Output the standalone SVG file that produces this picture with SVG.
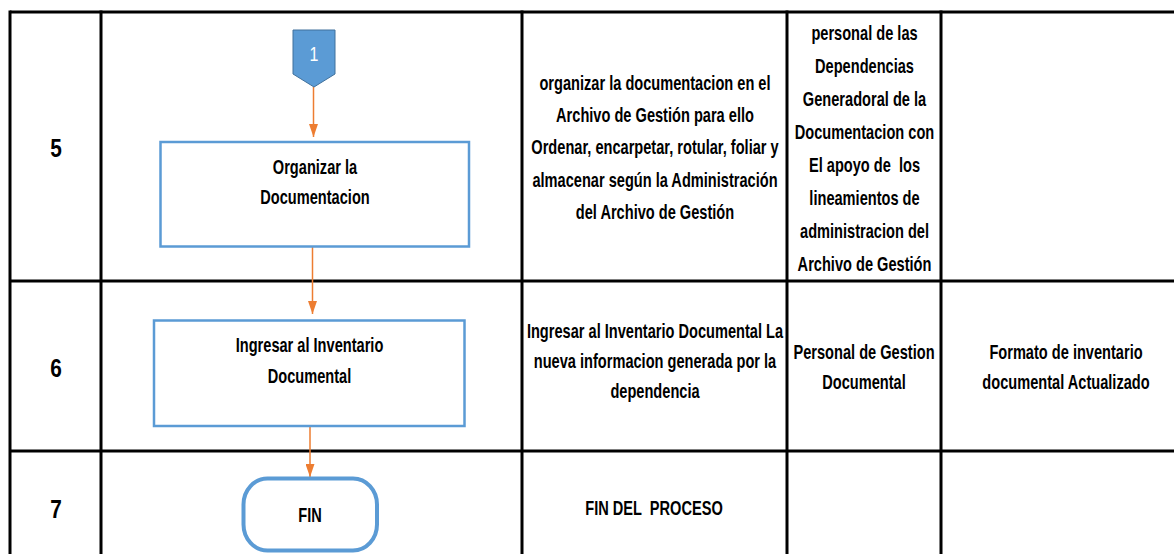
<svg xmlns="http://www.w3.org/2000/svg" width="1174" height="554" viewBox="0 0 1174 554">
  <style>
    .grid { stroke: #000; stroke-width: 3; fill: none; }
    .t { font-family: "Liberation Sans", Arial, sans-serif; font-weight: bold; font-size: 20px; fill: #000; text-anchor: middle; }
    .pre { white-space: pre; }
    .num { font-family: "Liberation Sans", Arial, sans-serif; font-weight: bold; font-size: 26px; fill: #000; text-anchor: middle; }
    .proc { fill: #fff; stroke: #5B9BD5; stroke-width: 2.5; }
    .term { fill: #fff; stroke: #5B9BD5; stroke-width: 4; }
    .conn { stroke: #ED7D31; stroke-width: 1.5; fill: none; marker-end: url(#arr); }
  </style>
  <defs>
    <marker id="arr" viewBox="0 0 13 9" refX="13" refY="4.5" markerWidth="13" markerHeight="9" markerUnits="userSpaceOnUse" orient="auto">
      <path d="M0,0 L13,4.5 L0,9 z" fill="#ED7D31"/>
    </marker>
  </defs>
  <rect width="1174" height="554" fill="#fff"/>

  <g id="table">
    <line class="grid" x1="10" y1="12" x2="1174" y2="12"/>
    <line class="grid" x1="10" y1="281" x2="1174" y2="281"/>
    <line class="grid" x1="10" y1="451" x2="1174" y2="451"/>
    <line class="grid" x1="10" y1="10.5" x2="10" y2="554"/>
    <line class="grid" x1="101" y1="10.5" x2="101" y2="554"/>
    <line class="grid" x1="522" y1="10.5" x2="522" y2="554"/>
    <line class="grid" x1="787" y1="10.5" x2="787" y2="554"/>
    <line class="grid" x1="941" y1="10.5" x2="941" y2="554"/>
  </g>

  <g id="row-numbers">
    <text class="num" transform="matrix(0.8 0 0 1 56 0)" x="0" y="157">5</text>
    <text class="num" transform="matrix(0.8 0 0 1 56 0)" x="0" y="377">6</text>
    <text class="num" transform="matrix(0.8 0 0 1 56 0)" x="0" y="518">7</text>
  </g>

  <g id="connectors">
    <line class="conn" x1="313.5" y1="87" x2="313.5" y2="137"/>
    <line class="conn" x1="312.5" y1="247" x2="312.5" y2="314"/>
    <line class="conn" x1="310" y1="427" x2="310" y2="477"/>
  </g>

  <g id="node-connector-1">
    <polygon points="293,30 335,30 335,74 314,87 293,74" fill="#5B9BD5" stroke="#41719C" stroke-width="1"/>
    <text transform="matrix(0.8 0 0 1 314 0)" x="0" y="61" font-family="Liberation Sans, Arial, sans-serif" font-size="20" fill="#fff" text-anchor="middle">1</text>
  </g>

  <g id="node-organizar">
    <rect class="proc" x="160.5" y="142" width="308.5" height="104.5"/>
    <text class="t" transform="matrix(0.73 0 0 1 315 0)"><tspan x="0" y="174">Organizar la</tspan><tspan x="0" y="204">Documentacion</tspan></text>
  </g>

  <g id="node-ingresar">
    <rect class="proc" x="154" y="320.5" width="310.5" height="105.5"/>
    <text class="t" transform="matrix(0.73 0 0 1 309.5 0)"><tspan x="0" y="352">Ingresar al Inventario</tspan><tspan x="0" y="383">Documental</tspan></text>
  </g>

  <g id="node-fin">
    <rect class="term" x="243.5" y="478.5" width="133.5" height="72" rx="24" ry="26"/>
    <text class="t" transform="matrix(0.73 0 0 1 310 0)" x="0" y="522">FIN</text>
  </g>

  <g id="cell-desc-5">
    <text class="t" transform="matrix(0.73 0 0 1 655 0)"><tspan x="0" y="90">organizar la documentacion en el</tspan><tspan x="0" y="122">Archivo de Gestión para ello</tspan><tspan x="0" y="154.5">Ordenar, encarpetar, rotular, foliar y</tspan><tspan x="0" y="187">almacenar según la Administración</tspan><tspan x="0" y="219">del Archivo de Gestión</tspan></text>
  </g>

  <g id="cell-resp-5">
    <text class="t" transform="matrix(0.73 0 0 1 864.5 0)"><tspan x="0" y="40.5">personal de las</tspan><tspan x="0" y="73.5">Dependencias</tspan><tspan x="0" y="106.5">Generadoral de la</tspan><tspan x="0" y="139.5">Documentacion con</tspan><tspan class="pre" x="0" y="172.5">El apoyo de  los</tspan><tspan x="0" y="205.5">lineamientos de</tspan><tspan x="0" y="238.5">administracion del</tspan><tspan x="0" y="271.5">Archivo de Gestión</tspan></text>
  </g>

  <g id="cell-desc-6">
    <text class="t" transform="matrix(0.73 0 0 1 655 0)"><tspan x="0" y="338">Ingresar al Inventario Documental La</tspan><tspan x="0" y="368">nueva informacion generada por la</tspan><tspan x="0" y="398">dependencia</tspan></text>
  </g>

  <g id="cell-resp-6">
    <text class="t" transform="matrix(0.73 0 0 1 864 0)"><tspan x="0" y="359">Personal de Gestion</tspan><tspan x="0" y="389">Documental</tspan></text>
  </g>

  <g id="cell-out-6">
    <text class="t" transform="matrix(0.73 0 0 1 1066 0)"><tspan x="0" y="359">Formato de inventario</tspan><tspan x="0" y="389">documental Actualizado</tspan></text>
  </g>

  <g id="cell-desc-7">
    <text class="t pre" transform="matrix(0.73 0 0 1 654 0)" x="0" y="515">FIN DEL  PROCESO</text>
  </g>
</svg>
